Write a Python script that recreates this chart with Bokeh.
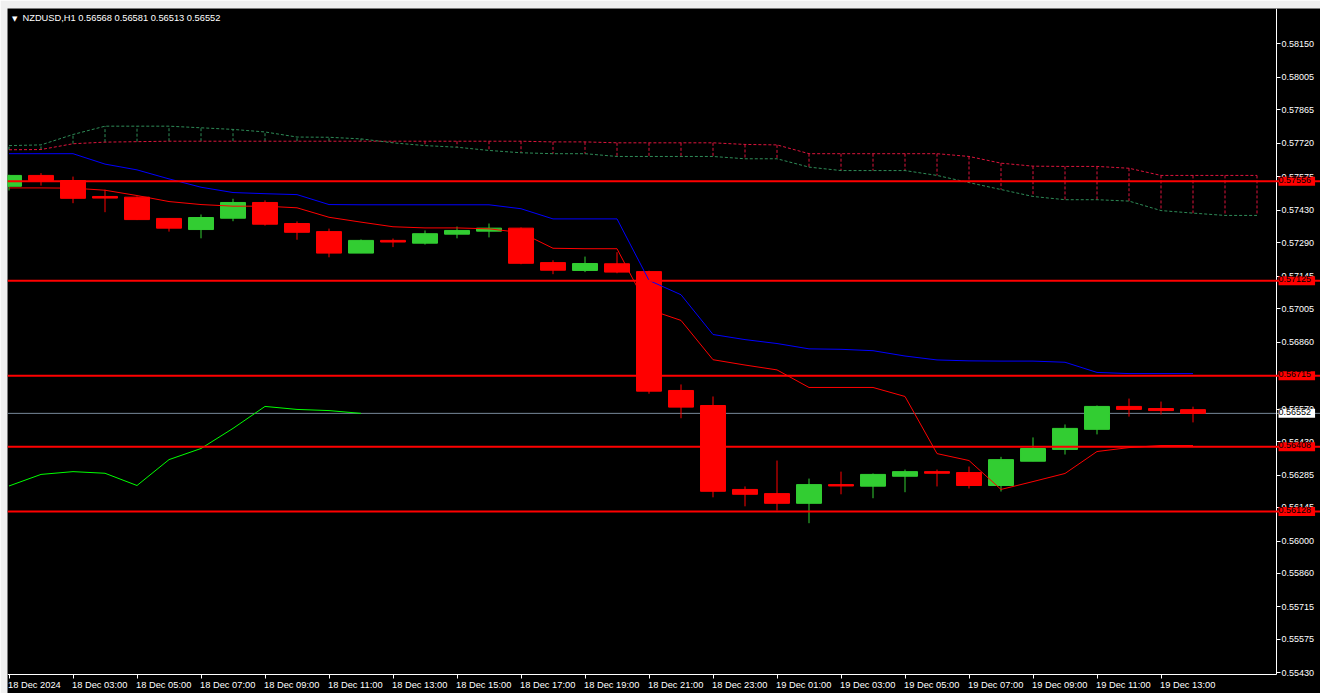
from bokeh.plotting import figure
from bokeh.models import (ColumnDataSource, Range1d, FixedTicker, PrintfTickFormatter,
                          CustomJSTickFormatter, Span, Label, LabelSet)
from bokeh.embed import file_html
from bokeh.resources import INLINE
from bokeh.core.properties import value

# ---------------- data ----------------
title_text = "NZDUSD,H1  0.56568 0.56581 0.56513 0.56552"

x_tick_labels = ["18 Dec 2024", "18 Dec 03:00", "18 Dec 05:00", "18 Dec 07:00", "18 Dec 09:00",
                 "18 Dec 11:00", "18 Dec 13:00", "18 Dec 15:00", "18 Dec 17:00", "18 Dec 19:00",
                 "18 Dec 21:00", "18 Dec 23:00", "19 Dec 01:00", "19 Dec 03:00", "19 Dec 05:00",
                 "19 Dec 07:00", "19 Dec 09:00", "19 Dec 11:00", "19 Dec 13:00"]

opens = [0.57534, 0.57581, 0.57559, 0.57490, 0.57487, 0.57395, 0.57347, 0.57396, 0.57464, 0.57373,
         0.57338, 0.57245, 0.57300, 0.57288, 0.57327, 0.57340, 0.57353, 0.57204, 0.57170, 0.57199,
         0.57165, 0.56651, 0.56586, 0.56223, 0.56205, 0.56163, 0.56244, 0.56237, 0.56280, 0.56300,
         0.56296, 0.56240, 0.56345, 0.56396, 0.56483, 0.56582, 0.56573, 0.56568]
highs = [0.57584, 0.57591, 0.57576, 0.57519, 0.57490, 0.57397, 0.57412, 0.57480, 0.57473, 0.57382,
         0.57351, 0.57304, 0.57308, 0.57343, 0.57360, 0.57373, 0.57356, 0.57214, 0.57230, 0.57249,
         0.57169, 0.56677, 0.56625, 0.56236, 0.56348, 0.56270, 0.56300, 0.56292, 0.56309, 0.56309,
         0.56322, 0.56364, 0.56448, 0.56504, 0.56586, 0.56616, 0.56603, 0.56581]
lows = [0.57516, 0.57537, 0.57461, 0.57422, 0.57388, 0.57338, 0.57309, 0.57383, 0.57364, 0.57303,
        0.57227, 0.57245, 0.57271, 0.57282, 0.57309, 0.57313, 0.57197, 0.57154, 0.57163, 0.57158,
        0.56637, 0.56531, 0.56189, 0.56150, 0.56132, 0.56077, 0.56202, 0.56185, 0.56211, 0.56236,
        0.56227, 0.56214, 0.56345, 0.56374, 0.56461, 0.56538, 0.56547, 0.56513]
closes = [0.57581, 0.57559, 0.57482, 0.57483, 0.57390, 0.57353, 0.57399, 0.57464, 0.57370, 0.57335,
          0.57245, 0.57300, 0.57293, 0.57329, 0.57343, 0.57353, 0.57201, 0.57171, 0.57200, 0.57163,
          0.56648, 0.56579, 0.56215, 0.56202, 0.56163, 0.56244, 0.56238, 0.56288, 0.56300, 0.56293,
          0.56240, 0.56352, 0.56400, 0.56487, 0.56582, 0.56569, 0.56564, 0.56552]

tenkan = [0.57527, 0.57527, 0.57526, 0.57517, 0.57494, 0.57468, 0.57455, 0.57448, 0.57448, 0.57441,
          0.57400, 0.57379, 0.57359, 0.57354, 0.57354, 0.57350, 0.57334, 0.57266, 0.57264, 0.57264,
          0.57001, 0.56954, 0.56784, 0.56761, 0.56740, 0.56664, 0.56664, 0.56664, 0.56625, 0.56378,
          0.56348, 0.56223, 0.56257, 0.56292, 0.56387, 0.56404, 0.56413, 0.56413]
kijun = [0.57675, 0.57675, 0.57675, 0.57630, 0.57605, 0.57566, 0.57530, 0.57507, 0.57502, 0.57498,
         0.57455, 0.57454, 0.57454, 0.57454, 0.57454, 0.57454, 0.57437, 0.57393, 0.57393, 0.57393,
         0.57127, 0.57065, 0.56893, 0.56871, 0.56854, 0.56831, 0.56829, 0.56823, 0.56800, 0.56783,
         0.56779, 0.56778, 0.56778, 0.56773, 0.56729, 0.56724, 0.56724, 0.56724]
chikou = [0.56238, 0.56288, 0.56300, 0.56293, 0.56240, 0.56352, 0.56400, 0.56487, 0.56582, 0.56569,
          0.56564, 0.56552]
span_a = [0.57692, 0.57693, 0.57718, 0.57725, 0.57727, 0.57729, 0.57729, 0.57729, 0.57729, 0.57729,
          0.57729, 0.57729, 0.57729, 0.57729, 0.57729, 0.57729, 0.57729, 0.57726, 0.57726, 0.57722,
          0.57722, 0.57722, 0.57722, 0.57715, 0.57713, 0.57675, 0.57675, 0.57675, 0.57675, 0.57675,
          0.57663, 0.57634, 0.57621, 0.57620, 0.57620, 0.57612, 0.57581, 0.57581, 0.57581, 0.57581]
span_b = [0.57710, 0.57713, 0.57758, 0.57794, 0.57794, 0.57794, 0.57787, 0.57780, 0.57769, 0.57747,
          0.57746, 0.57739, 0.57722, 0.57710, 0.57703, 0.57689, 0.57679, 0.57675, 0.57675, 0.57663,
          0.57663, 0.57663, 0.57663, 0.57653, 0.57653, 0.57617, 0.57602, 0.57602, 0.57602, 0.57581,
          0.57550, 0.57520, 0.57490, 0.57476, 0.57476, 0.57470, 0.57429, 0.57418, 0.57408, 0.57408]

level_prices = [0.57556, 0.57125, 0.56715, 0.56408, 0.56128]
bid_price = 0.56552

y_ticks = [0.58150, 0.58005, 0.57865, 0.57720, 0.57575, 0.57430, 0.57290, 0.57145, 0.57005, 0.56860,
           0.56715, 0.56570, 0.56430, 0.56285, 0.56145, 0.56000, 0.55860, 0.55715, 0.55575, 0.55430]

# ---------------- styles / layout ----------------
FONT = "Liberation Sans"
BULL = "#32cd32"
BEAR = "#ff0000"
SPAN_A_COLOR = "#dc143c"
SPAN_B_COLOR = "#2e8b57"
TXT = "#ffffff"

# the frame covers the whole chart window; price/time axes sit at fixed places inside it
X0, X_AXIS, X1 = -0.047, 39.61, 40.984
Y0, AXIS_Y, Y1 = 0.553405, 0.554226, 0.583029

idx = list(range(len(opens)))
cloud_x = list(range(len(span_a)))
tick_pos = idx[::2]

p = figure(width=1320, height=693, output_backend="svg", toolbar_location=None,
           x_range=Range1d(X0, X1), y_range=Range1d(Y0, Y1),
           y_axis_location="right",
           background_fill_color="black", border_fill_color="#f0f0f0",
           outline_line_color=None,
           min_border_left=7, min_border_top=8, min_border_right=0, min_border_bottom=0)
p.xgrid.visible = False
p.ygrid.visible = False

# right price axis
ya = p.yaxis[0]
ya.fixed_location = X_AXIS
ya.bounds = (AXIS_Y, Y1)
ya.ticker = FixedTicker(ticks=y_ticks)
ya.formatter = PrintfTickFormatter(format="%.5f")
ya.axis_line_color = "white"
ya.major_tick_line_color = "white"
ya.minor_tick_line_color = None
ya.major_tick_out = 4
ya.major_tick_in = 0
ya.major_label_standoff = 1
ya.major_label_text_color = TXT
ya.major_label_text_font = FONT
ya.major_label_text_font_size = "9px"

# bottom time axis (tick marks; labels are left-aligned texts below it)
xa = p.xaxis[0]
xa.fixed_location = AXIS_Y
xa.bounds = (X0, X_AXIS)
xa.ticker = FixedTicker(ticks=tick_pos)
xa.formatter = CustomJSTickFormatter(code="return ''")
xa.axis_line_color = "white"
xa.major_tick_line_color = "white"
xa.minor_tick_line_color = None
xa.major_tick_out = 4
xa.major_tick_in = 0
xa.major_label_standoff = 0
xa.major_label_text_font_size = "1px"

xlab_src = ColumnDataSource(dict(x=tick_pos, text=x_tick_labels))
p.add_layout(LabelSet(x="x", y=AXIS_Y, y_offset=-5, text="text", source=xlab_src,
                      x_offset=-1, text_align="left", text_baseline="top",
                      text_color=TXT, text_font=value(FONT), text_font_size="9.3px"))

# bid line (behind candles)
p.add_layout(Span(location=bid_price, dimension="width", line_color="#778899",
                  line_width=1, level="underlay"))

# Ichimoku cloud
hatch_colors = [SPAN_B_COLOR if b > a else SPAN_A_COLOR for a, b in zip(span_a, span_b)]
p.segment(x0=cloud_x, y0=span_a, x1=cloud_x, y1=span_b, line_color=hatch_colors,
          line_dash="3 2", line_width=1)
p.line(cloud_x, span_a, line_color=SPAN_A_COLOR, line_dash="3 2", line_width=1)
p.line(cloud_x, span_b, line_color=SPAN_B_COLOR, line_dash="3 2", line_width=1)

# candles
colors = [BULL if c >= o else BEAR for o, c in zip(opens, closes)]
csrc = ColumnDataSource(dict(x=idx, h=highs, l=lows,
                             top=[max(o, c) for o, c in zip(opens, closes)],
                             bottom=[min(o, c) for o, c in zip(opens, closes)],
                             color=colors))
p.segment(x0="x", y0="h", x1="x", y1="l", source=csrc, line_color="color", line_width=1)
p.vbar(x="x", width=0.78, top="top", bottom="bottom", source=csrc,
       fill_color="color", line_color="color", line_width=1)

# indicator lines
p.line(idx, tenkan, line_color="#ff0000", line_width=1)
p.line(idx, kijun, line_color="#0000ff", line_width=1)
p.line(list(range(len(chikou))), chikou, line_color="#00ff00", line_width=1)

# horizontal levels with price flags on the axis
for lv in level_prices:
    p.add_layout(Span(location=lv, dimension="width", line_color="#ff0000", line_width=2))
    p.add_layout(Label(x=X_AXIS, y=lv, x_offset=2, text=f"{lv:.5f}", text_font=FONT,
                       text_font_size="9px", text_color="black", text_align="left",
                       text_baseline="middle", background_fill_color="#ff0000",
                       background_fill_alpha=1.0, padding=(0, 4, 0, 3), level="overlay"))
p.add_layout(Label(x=X_AXIS, y=bid_price, x_offset=2, text=f"{bid_price:.5f}", text_font=FONT,
                   text_font_size="9px", text_color="black", text_align="left",
                   text_baseline="middle", background_fill_color="white",
                   background_fill_alpha=1.0, padding=(0, 4, 0, 3), level="overlay"))

# title
p.add_layout(Label(x=X0, y=Y1, x_offset=4.5, y_offset=-10.5, text="\u25bc", text_font="DejaVu Sans",
                   text_font_size="7px", text_color=TXT, text_align="left", text_baseline="middle"))
p.add_layout(Label(x=X0, y=Y1, x_offset=15, y_offset=-4, text=title_text, text_font=FONT,
                   text_font_size="9.3px", text_color=TXT, text_align="left", text_baseline="top"))

open("out.html", "w").write(file_html(p, INLINE))
